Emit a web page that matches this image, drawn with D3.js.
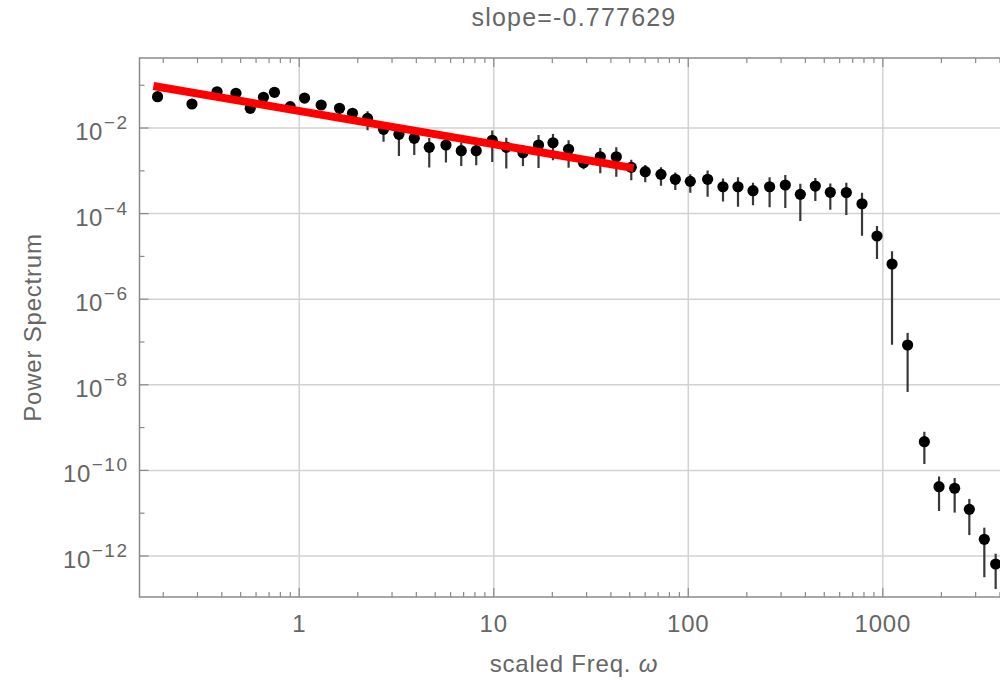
<!DOCTYPE html>
<html>
<head>
<meta charset="utf-8">
<script src="https://cdn.jsdelivr.net/npm/d3@7"></script>
<style>
  body { margin: 0; background: #fff; }
  text { font-family: "Liberation Sans", Arial, sans-serif; fill: #666; }
</style>
</head>
<body>
<div id="chart"></div>
<script>
// scaled frequency of each bin
const omega = [0.187, 0.281, 0.378, 0.473, 0.560, 0.655, 0.746, 0.899, 1.065, 1.297,
  1.611, 1.879, 2.245, 2.713, 3.255, 3.902, 4.660, 5.679, 6.807, 8.128,
  9.824, 11.6, 14.13, 16.99, 20.16, 24.25, 28.95, 35.28, 42.65, 50.92,
  60.09, 72.38, 85.76, 102.4, 125.7, 150.8, 180.1, 215.1, 261.8, 315.3,
  376.6, 449.8, 537.1, 649.2, 781.7, 933.3, 1115, 1341, 1635, 1945,
  2340, 2784, 3325, 3802];

// power spectrum value per bin
const power = [0.0539, 0.0364, 0.0705, 0.0647, 0.0289, 0.0522, 0.0683, 0.0315, 0.0502, 0.0345,
  0.0289, 0.0221, 0.01685, 0.00932, 0.00713, 0.00575, 0.00354, 0.00401, 0.00295, 0.00295,
  0.00516, 0.00354, 0.00265, 0.00401, 0.00453, 0.00318, 0.001546, 0.002135, 0.002135, 0.001207,
  0.000953, 0.000828, 0.000633, 0.000568, 0.000633, 0.000425, 0.000425, 0.000343, 0.000425, 0.000466,
  0.000282, 0.000441, 0.000315, 0.000311, 0.00017, 3.0e-5, 6.64e-6, 8.51e-8, 4.69e-10, 4.16e-11,
  3.82e-11, 1.23e-11, 2.45e-12, 6.5e-13];

// error (sigma) relative to the value
const relErr = [0.2, 0.2, 0.2, 0.2, 0.2, 0.2, 0.2, 0.2, 0.2, 0.2,
  0.2, 0.2, 0.47, 0.49, 0.69, 0.59, 0.66, 0.61, 0.56, 0.54,
  0.69, 0.68, 0.51, 0.71, 0.61, 0.63, 0.3, 0.59, 0.66, 0.50,
  0.43, 0.46, 0.44, 0.46, 0.61, 0.55, 0.66, 0.54, 0.67, 0.71,
  0.76, 0.55, 0.61, 0.70, 0.82, 0.71, 0.987, 0.92, 0.70, 0.73,
  0.73, 0.75, 0.87, 0.74];

// power law fit
const fitSlope = -0.777629;
const fitAmp = 0.0251;
const fitRange = [0.178, 52.3];

const xMajor = [1, 10, 100, 1000];
const yMajor = [-2, -4, -6, -8, -10, -12];

const data = omega.map((w, i) => ({ w: w, p: power[i], s: power[i] * relErr[i] }));

const W = 1000, H = 680;
const margin = { top: 58, right: -8, bottom: 83, left: 139.5 };
const width = W - margin.left - margin.right;
const height = H - margin.top - margin.bottom;

const svg = d3.select("#chart").append("svg")
  .attr("width", W)
  .attr("height", H);

const g = svg.append("g")
  .attr("transform", "translate(" + margin.left + "," + margin.top + ")");

const x = d3.scaleLog().domain([0.151, 4400]).range([0, width]);
const y = d3.scaleLog().domain([1.1e-13, 0.433]).range([height, 0]);

// grid lines
g.selectAll(".vgrid").data(xMajor).enter().append("line")
  .attr("x1", d => x(d)).attr("x2", d => x(d))
  .attr("y1", 0).attr("y2", height)
  .attr("stroke", "#d2d2d2").attr("stroke-width", 1.5);
g.selectAll(".hgrid").data(yMajor).enter().append("line")
  .attr("y1", d => y(Math.pow(10, d))).attr("y2", d => y(Math.pow(10, d)))
  .attr("x1", 0).attr("x2", width)
  .attr("stroke", "#d2d2d2").attr("stroke-width", 1.5);

// tick values
const xTicks = [];
for (let k = -1; k <= 3; k++) {
  for (let m = 1; m <= 9; m++) {
    const v = m * Math.pow(10, k);
    if (v >= 0.151 && v <= 4400) xTicks.push({ v: v, major: m === 1 });
  }
}
const yTicks = d3.range(-1, -13, -1).map(k => ({ v: Math.pow(10, k), major: k % 2 === 0 }));

const frame = "#8a8a8a";

// frame axes (bottom labelled, top unlabelled)
const bottomAxis = g.append("g").attr("transform", "translate(0," + height + ")");
bottomAxis.selectAll("line.t").data(xTicks).enter().append("line")
  .attr("x1", d => x(d.v)).attr("x2", d => x(d.v))
  .attr("y1", 0).attr("y2", d => d.major ? -9 : -5)
  .attr("stroke", frame).attr("stroke-width", 1.2);
bottomAxis.selectAll("text").data(xMajor).enter().append("text")
  .attr("x", d => x(d)).attr("y", 35)
  .attr("text-anchor", "middle")
  .style("font-size", "24px")
  .style("letter-spacing", "0.8px")
  .text(d => d);

const topAxis = g.append("g");
topAxis.selectAll("line.t").data(xTicks).enter().append("line")
  .attr("x1", d => x(d.v)).attr("x2", d => x(d.v))
  .attr("y1", 0).attr("y2", d => d.major ? 9 : 5)
  .attr("stroke", frame).attr("stroke-width", 1.2);

const leftAxis = g.append("g");
leftAxis.selectAll("line.t").data(yTicks).enter().append("line")
  .attr("y1", d => y(d.v)).attr("y2", d => y(d.v))
  .attr("x1", 0).attr("x2", d => d.major ? 9 : 5)
  .attr("stroke", frame).attr("stroke-width", 1.2);
const yLab = leftAxis.selectAll("text").data(yMajor).enter().append("text")
  .attr("x", -11).attr("y", d => y(Math.pow(10, d)) + 12)
  .attr("text-anchor", "end")
  .style("font-size", "24px")
  .style("letter-spacing", "0.5px");
yLab.append("tspan").text("10");
yLab.append("tspan").attr("dy", -11).attr("dx", 1)
  .style("font-size", "19px").style("letter-spacing", "1.5px")
  .text(d => "\u2212" + Math.abs(d));

g.append("rect")
  .attr("x", 0).attr("y", 0).attr("width", width).attr("height", height)
  .attr("fill", "none").attr("stroke", frame).attr("stroke-width", 1.5);

// data
const plot = g.append("g");
svg.append("clipPath").attr("id", "clip").append("rect")
  .attr("width", width).attr("height", height);
plot.attr("clip-path", "url(#clip)");

plot.selectAll(".err").data(data).enter().append("line")
  .attr("x1", d => x(d.w)).attr("x2", d => x(d.w))
  .attr("y1", d => y(d.p + d.s))
  .attr("y2", d => y(Math.max(d.p - d.s, 1e-20)))
  .attr("stroke", "#383838").attr("stroke-width", 2.2);

plot.selectAll(".dot").data(data).enter().append("circle")
  .attr("cx", d => x(d.w)).attr("cy", d => y(d.p))
  .attr("r", 5.6).attr("fill", "#000");

const fitLine = d3.line().x(d => x(d)).y(d => y(fitAmp * Math.pow(d, fitSlope)));
plot.append("path")
  .datum(fitRange)
  .attr("d", fitLine)
  .attr("fill", "none").attr("stroke", "#ff0000").attr("stroke-width", 8);

// labels
svg.append("text")
  .attr("x", 574).attr("y", 26)
  .attr("text-anchor", "middle")
  .style("font-size", "25px")
  .style("letter-spacing", "1.2px")
  .text("slope=-0.777629");

const xl = svg.append("text")
  .attr("x", 574).attr("y", 672)
  .attr("text-anchor", "middle")
  .style("font-size", "24px")
  .style("letter-spacing", "0.8px");
xl.append("tspan").text("scaled Freq. ");
xl.append("tspan").style("font-style", "italic").text("\u03c9");

svg.append("text")
  .attr("transform", "translate(41," + (margin.top + height / 2) + ") rotate(-90)")
  .attr("text-anchor", "middle")
  .style("font-size", "24px")
  .style("letter-spacing", "0.8px")
  .text("Power Spectrum");
</script>
</body>
</html>
